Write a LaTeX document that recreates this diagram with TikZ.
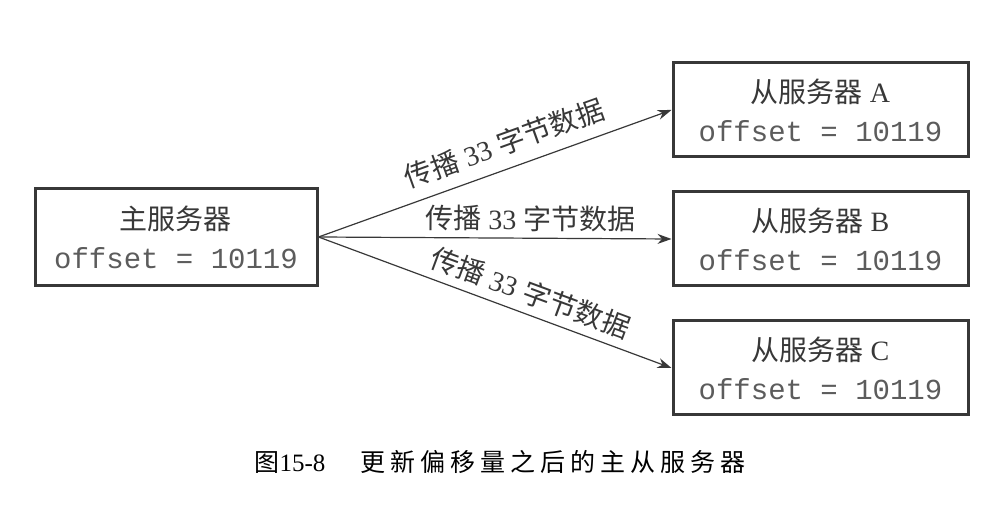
\documentclass[tikz,border=0pt]{standalone}
\usepackage{fontspec}
\setmainfont{Liberation Serif}
\setmonofont{Liberation Mono}
\newfontfamily\cjk{Noto Sans CJK SC}
\newfontfamily\capcjk[LetterSpace=20]{Noto Sans CJK SC}
\usetikzlibrary{positioning, arrows.meta}
\definecolor{boxgray}{gray}{0.22}
\definecolor{textgray}{gray}{0.22}
\definecolor{codegray}{gray}{0.36}
\newcommand{\offsetline}{{\ttfamily\fontsize{14.5}{19.5}\selectfont\color{codegray}offset = 10119}}

\begin{document}
\begin{tikzpicture}[x=0.5pt, y=0.5pt,
    every node/.style={align=center, text=textgray},
    server/.style={draw=boxgray, line width=1.5pt, fill=white, inner sep=0pt, minimum height=47pt, font=\fontsize{14}{19.5}\selectfont},
    master/.style={server, minimum width=141pt, minimum height=48.5pt},
    slave/.style ={server, minimum width=147.5pt},
    arrow/.style ={-{Stealth[length=7pt, width=5pt]}, line width=0.6pt, draw=boxgray},
    lbl/.style   ={font=\fontsize{14}{16}\selectfont, sloped, above, inner sep=3pt},
    node distance=16pt and 176.5pt
]
\useasboundingbox (0,0) rectangle (993,-507);

% ========== Master ==========
\node[master] (master) at (176,-237) {{\cjk 主服务器}\\\offsetline};

% ========== Slaves ==========
\node[slave, right=of master, yshift=-1pt] (slaveB) {{\cjk 从服务器} B\\\offsetline};
\node[slave, above=of slaveB]  (slaveA) {{\cjk 从服务器} A\\\offsetline};
\node[slave, below=of slaveB]  (slaveC) {{\cjk 从服务器} C\\\offsetline};

% ========== Arrows ==========
\draw[arrow] (master.east) -- node[lbl, pos=0.55, inner sep=6pt] {{\cjk 传播} 33 {\cjk 字节数据}} (slaveA.west);
\draw[arrow] (master.east) -- node[lbl, pos=0.60] {{\cjk 传播} 33 {\cjk 字节数据}} (slaveB.west);
\draw[arrow] (master.east) -- node[lbl, pos=0.58, inner sep=4pt] {{\cjk 传播} 33 {\cjk 字节数据}} (slaveC.west);

% ========== Caption ==========
\node[text=black, font=\fontsize{12.5}{14}\selectfont] (caption) at (500,-462)
    {{\capcjk 图}15-8\hspace{1.4em}{\capcjk 更新偏移量之后的主从服务器}};

\end{tikzpicture}
\end{document}
